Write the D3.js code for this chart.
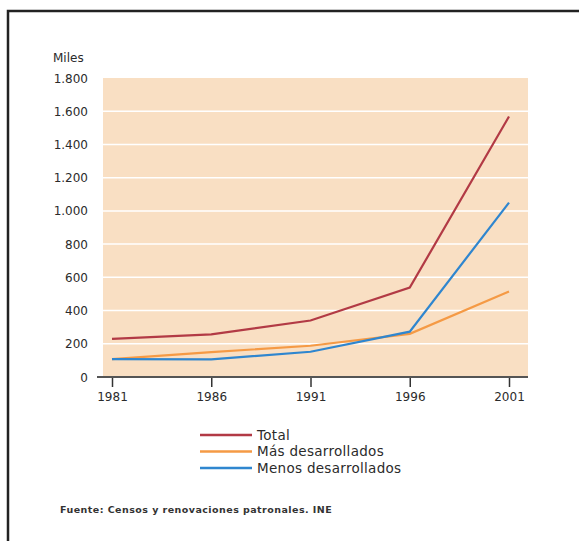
<!doctype html>
<html>
<head>
<meta charset="utf-8"/>
<script src="https://cdnjs.cloudflare.com/ajax/libs/d3/7.8.5/d3.min.js"></script>
<style>
  body { margin: 0; background: #fff; }
  svg { display: block; font-family: "DejaVu Sans", sans-serif; }
</style>
</head>
<body>
<svg width="579" height="541"></svg>
<script>
  // years and series (miles)
  var years = [1981, 1986, 1991, 1996, 2001]
  var total = [230, 257, 340, 538, 1568]
  var masDes = [108, 150, 188, 260, 515]
  var menosDes = [108, 106, 152, 273, 1050]
  var yTicks = [0, 200, 400, 600, 800, 1000, 1200, 1400, 1600, 1800]
  var seriesNames = ["Total", "Más desarrollados", "Menos desarrollados"]
  var colors = ["#b23a45", "#f59a45", "#2f86cf"]

  var svg = d3.select("svg")

  // frame (top + left)
  svg.append("path")
    .attr("d", "M8,541 V11 H579")
    .attr("fill", "none")
    .attr("stroke", "#222")
    .attr("stroke-width", 2.5)

  var x = d3.scaleLinear().domain([1981, 2001]).range([112, 509])
  var y = d3.scaleLinear().domain([0, 1800]).range([377, 78])

  // background
  svg.append("rect")
    .attr("x", 103).attr("y", y(1800))
    .attr("width", 528 - 103).attr("height", y(0) - y(1800))
    .attr("fill", "#f9dfc3")

  // gridlines
  svg.selectAll("line.grid")
    .data(yTicks.filter(d => d > 0 && d < 1800))
    .enter().append("line")
    .attr("class", "grid")
    .attr("x1", 103).attr("x2", 528)
    .attr("y1", d => y(d)).attr("y2", d => y(d))
    .attr("stroke", "#fff")
    .attr("stroke-width", 1.5)

  // y labels
  svg.selectAll("text.ylab")
    .data(yTicks)
    .enter().append("text")
    .attr("class", "ylab")
    .attr("x", 88)
    .attr("y", d => y(d) + 4.5)
    .attr("text-anchor", "end")
    .attr("font-size", 12)
    .attr("fill", "#2b2b2b")
    .text(d => d3.format(",")(d).replace(/,/g, "."))

  svg.append("text")
    .attr("x", 53).attr("y", 62)
    .attr("font-size", 12)
    .attr("fill", "#2b2b2b")
    .text("Miles")

  // x axis
  var xAxis = d3.axisBottom(x)
    .tickValues(years)
    .tickFormat(d3.format("d"))
    .tickSize(10)
    .tickSizeOuter(0)
  var gx = svg.append("g")
    .attr("transform", "translate(0,377)")
    .call(xAxis)
  gx.select(".domain").remove()
  gx.append("line")
    .attr("x1", 97).attr("x2", 528)
    .attr("stroke", "#555").attr("stroke-width", 2)
  gx.selectAll(".tick line").attr("stroke", "#333").attr("stroke-width", 1.5)
  gx.selectAll(".tick text")
    .attr("font-size", 12)
    .attr("fill", "#2b2b2b")
    .attr("font-family", "\"DejaVu Sans\", sans-serif")
    .attr("dy", "0.95em")

  // lines
  var data = [total, masDes, menosDes]
  var line = d3.line()
    .x((d, i) => x(years[i]))
    .y(d => y(d))

  // draw orange first, then blue, then red
  ;[1, 2, 0].forEach(function (k) {
    svg.append("path")
      .datum(data[k])
      .attr("d", line)
      .attr("fill", "none")
      .attr("stroke", colors[k])
      .attr("stroke-width", 2.2)
  })

  // legend
  var leg = svg.append("g")
  seriesNames.forEach(function (name, i) {
    var ly = 435 + i * 16.5
    leg.append("line")
      .attr("x1", 200).attr("x2", 252)
      .attr("y1", ly).attr("y2", ly)
      .attr("stroke", colors[i])
      .attr("stroke-width", 2.5)
    leg.append("text")
      .attr("x", 257).attr("y", ly + 4.8)
      .attr("font-size", 13.5)
      .attr("letter-spacing", 0.3)
      .attr("fill", "#2b2b2b")
      .text(name)
  })

  svg.append("text")
    .attr("x", 60).attr("y", 513)
    .attr("font-size", 9.5)
    .attr("letter-spacing", 0.45)
    .attr("font-weight", "bold")
    .attr("fill", "#333")
    .text("Fuente: Censos y renovaciones patronales. INE")
</script>
</body>
</html>
